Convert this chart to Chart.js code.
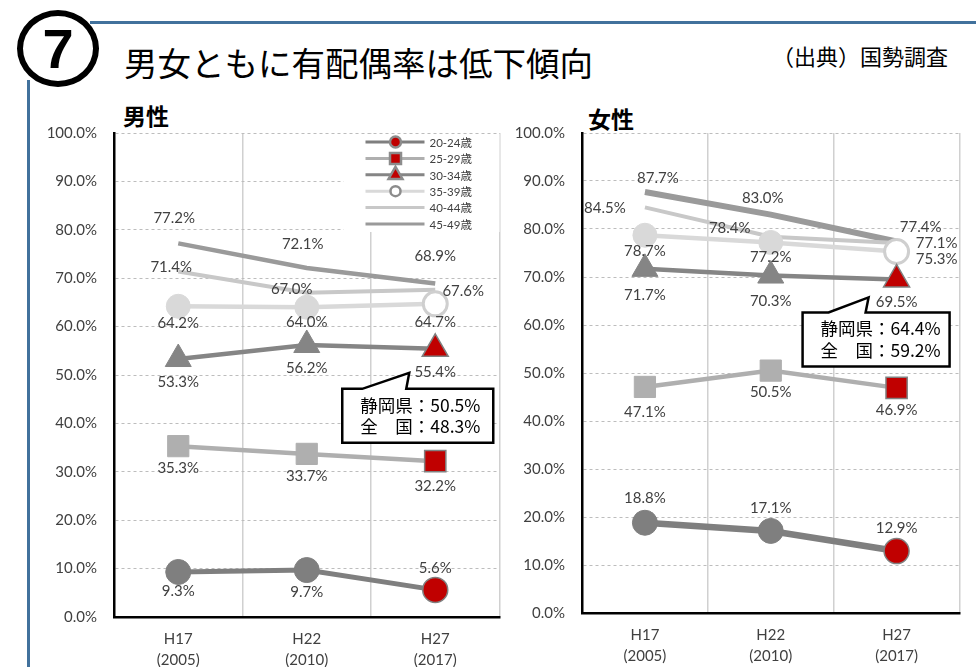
<!DOCTYPE html>
<html lang="ja">
<head>
<meta charset="utf-8">
<script src="https://cdn.jsdelivr.net/npm/chart.js@4.4.1/dist/chart.umd.min.js"></script>
<style>
  body { margin: 0; width: 976px; height: 667px; overflow: hidden; position: relative; background: #fff;
         font-family: 'Noto Sans CJK JP', sans-serif; color: #000; }
  .frame-top { position: absolute; left: 90px; top: 21px; width: 886px; height: 3px; background: #41719c; }
  .frame-left { position: absolute; left: 27px; top: 80px; width: 3px; height: 587px; background: #41719c; }
  .badge { position: absolute; left: 17px; top: 10px; width: 70px; height: 65px; border: 6px solid #000;
           border-radius: 50%; background: #fff; text-align: center; font: bold 56px/66px 'Liberation Sans', sans-serif; }
  .title { position: absolute; left: 124px; top: 44px; font-size: 33.5px; line-height: 36px; white-space: nowrap; }
  .source { position: absolute; left: 772px; top: 42px; font-size: 22px; line-height: 26px; white-space: nowrap; }
  .sub { position: absolute; font-size: 23px; font-weight: bold; line-height: 26px; }
  canvas { position: absolute; }
</style>
</head>
<body>
<div class="frame-top"></div>
<div class="frame-left"></div>
<div class="badge">7</div>
<div class="title">男女ともに有配偶率は低下傾向</div>
<div class="source">（出典）国勢調査</div>
<div class="sub" style="left:123px; top:102px;">男性</div>
<div class="sub" style="left:588px; top:105px;">女性</div>
<canvas id="male" width="516" height="567" style="left:0; top:100px;"></canvas>
<canvas id="female" width="476" height="567" style="left:500px; top:100px;"></canvas>
<script>
// Census years on the x axis
const years = [['H17', '(2005)'], ['H22', '(2010)'], ['H27', '(2017)']];
const ageGroups = ['20-24歳', '25-29歳', '30-34歳', '35-39歳', '40-44歳', '45-49歳'];

// 有配偶率 (%), 男性
const male2024 = [9.3, 9.7, 5.6];
const male2529 = [35.3, 33.7, 32.2];
const male3034 = [53.3, 56.2, 55.4];
const male3539 = [64.2, 64.0, 64.7];
const male4044 = [71.4, 67.0, 67.6];
const male4549 = [77.2, 72.1, 68.9];

// 有配偶率 (%), 女性
const female2024 = [18.8, 17.1, 12.9];
const female2529 = [47.1, 50.5, 46.9];
const female3034 = [71.7, 70.3, 69.5];
const female3539 = [78.7, 77.2, 75.3];
const female4044 = [84.5, 78.4, 77.1];
const female4549 = [87.7, 83.0, 77.4];

// 30-34歳 callouts (静岡県 / 全国, H27)
const maleCallout = ['静岡県：50.5%', '全　国：48.3%'];
const femaleCallout = ['静岡県：64.4%', '全　国：59.2%'];

const RED = '#c00000';
const TEXT = '#404040';

// line look per age group
const SERIES_STYLE = [
  { color: '#7f7f7f', width: 5, point: 'circle', r: 12.5 },
  { color: '#afafaf', width: 4.5, point: 'rect', r: 15 },
  { color: '#858585', width: 4.5, point: 'triangle', r: 15 },
  { color: '#d9d9d9', width: 4.5, point: 'circle', r: 12, hollowLast: true },
  { color: '#c8c8c8', width: 4, point: null },
  { color: '#9a9a9a', width: 4.5, point: null },
];

// data-label offsets (dx, dy) from each point
const maleLabelPos = [
  [[0, 19], [0, 22], [0, -22]],
  [[0, 22], [0, 22], [0, 25]],
  [[0, 23], [0, 23], [0, 23]],
  [[0, 17], [0, 15], [0, 18]],
  [[-7, -4], [-15, -4], [28, 1]],
  [[-4, -25], [-4, -24], [0, -27]],
];
const femaleLabelPos = [
  [[0, -25], [0, -23], [0, -23]],
  [[0, 25], [0, 22], [0, 22]],
  [[0, 26], [0, 26], [0, 23]],
  [[0, 16], [0, 15], [40, 8]],
  [[-40, 1], [-41, -9], [40, 0]],
  [[13, -14], [-8, -16], [24, -14]],
];

function buildDatasets(series, labelPos, big) {
  return series.map((values, i) => {
    const s = SERIES_STYLE[i];
    const lastFill = s.hollowLast ? '#fff' : RED;
    const lastBorder = s.hollowLast ? '#cfcfcf' : '#808080';
    return {
      label: ageGroups[i],
      data: values,
      borderColor: s.color,
      borderWidth: big && (i === 0 || i === 5) ? s.width + 1.5 : s.width,
      pointStyle: s.point || 'circle',
      pointRadius: s.point ? s.r : 0,
      pointBackgroundColor: [s.color, s.color, lastFill],
      pointBorderColor: [s.color, s.color, lastBorder],
      pointBorderWidth: s.hollowLast ? [1, 1, 3] : [1, 1, 1.5],
      tension: 0,
      labelOffsets: labelPos[i],
    };
  });
}

const valueLabels = {
  id: 'valueLabels',
  afterDatasetsDraw(chart) {
    const ctx = chart.ctx;
    ctx.save();
    ctx.font = '15px Lato, sans-serif';
    ctx.fillStyle = TEXT;
    ctx.textAlign = 'center';
    ctx.textBaseline = 'middle';
    chart.data.datasets.forEach((ds, i) => {
      chart.getDatasetMeta(i).data.forEach((pt, j) => {
        const [dx, dy] = ds.labelOffsets[j];
        ctx.fillText(ds.data[j].toFixed(1) + '%', pt.x + dx, pt.y + dy);
      });
    });
    ctx.restore();
  },
};

function markerPath(ctx, style, x, y, r) {
  ctx.beginPath();
  if (style === 'rect') {
    ctx.rect(x - r, y - r, 2 * r, 2 * r);
  } else if (style === 'triangle') {
    ctx.moveTo(x, y - r * 1.15);
    ctx.lineTo(x + r, y + r * 0.6);
    ctx.lineTo(x - r, y + r * 0.6);
    ctx.closePath();
  } else {
    ctx.arc(x, y, r, 0, Math.PI * 2);
  }
}

// small legend box in the upper right of the male chart
const boxLegend = {
  id: 'boxLegend',
  beforeDatasetsDraw(chart, args, opts) {
    if (!opts.show) return;
    const ctx = chart.ctx;
    const a = chart.chartArea;
    const left = a.right - 156;
    ctx.save();
    ctx.fillStyle = '#fff';
    ctx.fillRect(left, a.top + 1, 156, 98);
    ctx.font = '11.5px Lato, "Noto Sans CJK JP", sans-serif';
    ctx.textBaseline = 'middle';
    chart.data.datasets.forEach((ds, i) => {
      const s = SERIES_STYLE[i];
      const y = a.top + 9 + i * 16.4;
      const x0 = left + 22;
      ctx.strokeStyle = s.color;
      ctx.lineWidth = 3;
      ctx.beginPath();
      ctx.moveTo(x0, y);
      ctx.lineTo(x0 + 59, y);
      ctx.stroke();
      if (s.point) {
        const cx = x0 + 30;
        if (s.hollowLast) {
          markerPath(ctx, 'circle', cx, y, 5);
          ctx.fillStyle = '#fff';
        } else {
          markerPath(ctx, s.point, cx, y, s.point === 'triangle' ? 7 : 5.5);
          ctx.fillStyle = RED;
        }
        ctx.fill();
        ctx.strokeStyle = '#8c8c8c';
        ctx.lineWidth = 2.5;
        ctx.stroke();
      }
      ctx.fillStyle = TEXT;
      ctx.fillText(ds.label, x0 + 64, y + 1);
    });
    ctx.restore();
  },
};

// speech-bubble callout attached to the H27 point of the 30-34 series
const callout = {
  id: 'callout',
  afterDraw(chart, args, opts) {
    if (!opts.lines) return;
    const pt = chart.getDatasetMeta(2).data[2];
    const ctx = chart.ctx;
    const [l, r, t, b] = opts.box.map((v, k) => (k < 2 ? pt.x + v : pt.y + v));
    const [bx1, bx2] = opts.base;
    const [tx, ty] = opts.tip;
    ctx.save();
    ctx.beginPath();
    ctx.moveTo(l, t);
    ctx.lineTo(pt.x + bx1, t);
    ctx.lineTo(pt.x + tx, pt.y + ty);
    ctx.lineTo(pt.x + bx2, t);
    ctx.lineTo(r, t);
    ctx.lineTo(r, b);
    ctx.lineTo(l, b);
    ctx.closePath();
    ctx.fillStyle = '#fff';
    ctx.fill();
    ctx.strokeStyle = '#000';
    ctx.lineWidth = 2.5;
    ctx.stroke();
    ctx.fillStyle = '#000';
    ctx.font = '17.5px "Noto Sans CJK JP", sans-serif';
    ctx.textBaseline = 'middle';
    opts.lines.forEach((line, k) => ctx.fillText(line, l + 18, t + 16 + k * 21.5));
    ctx.restore();
  },
};

function makeChart(id, datasets, axisWidth, axisHeight, padRight, extra) {
  return new Chart(document.getElementById(id), {
    type: 'line',
    data: { labels: years, datasets },
    plugins: [boxLegend, valueLabels, callout],
    options: {
      responsive: false,
      animation: false,
      layout: { padding: { top: 33, right: padRight, left: 0, bottom: 0 } },
      plugins: {
        legend: { display: false },
        tooltip: { enabled: false },
        boxLegend: { show: extra.legend },
        callout: extra.callout,
      },
      scales: {
        x: {
          offset: true,
          grid: { offset: true, color: '#d0d0d0', lineWidth: 1.5, drawTicks: false },
          border: { color: '#000', width: 2.5 },
          ticks: { color: TEXT, font: { family: 'Lato', size: 15, lineHeight: 1.4 }, padding: 12 },
          afterFit(scale) { scale.height = axisHeight; },
        },
        y: {
          min: 0,
          max: 100,
          ticks: {
            stepSize: 10,
            color: TEXT,
            padding: 17,
            font: { family: 'Lato', size: 15 },
            callback: (v) => v.toFixed(1) + '%',
          },
          grid: { color: '#bdbdbd', lineWidth: 1, drawTicks: false },
          border: { color: '#000', width: 2.5, dash: [3, 3] },
          afterFit(scale) { scale.width = axisWidth; },
        },
      },
    },
  });
}

makeChart('male',
  buildDatasets([male2024, male2529, male3034, male3539, male4044, male4549], maleLabelPos, false),
  114, 50, 1,
  { legend: true, callout: { lines: maleCallout, box: [-93, 58, 40, 94], base: [-73, -29], tip: [-26, 24] } });

makeChart('female',
  buildDatasets([female2024, female2529, female3034, female3539, female4044, female4549], femaleLabelPos, true),
  82, 54, 14,
  { legend: false, callout: { lines: femaleCallout, box: [-94, 53, 33, 87], base: [-68, -31], tip: [-28, 18] } });
</script>
</body>
</html>
